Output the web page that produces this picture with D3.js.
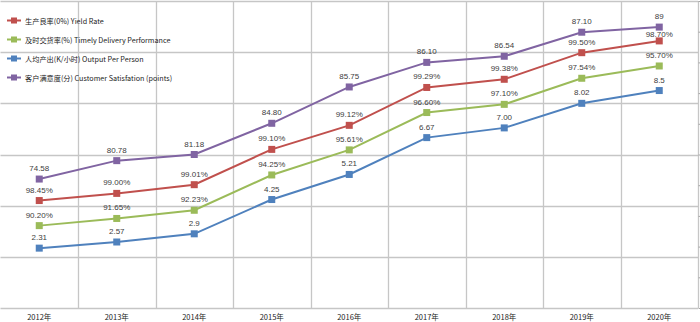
<!DOCTYPE html>
<html><head><meta charset="utf-8">
<script src="https://cdn.jsdelivr.net/npm/d3@7/dist/d3.min.js"></script>
<style>body{margin:0;background:#fff}svg{display:block}</style>
</head><body>
<svg id="c" width="700" height="322"></svg>
<script>
const years = ["2012年","2013年","2014年","2015年","2016年","2017年","2018年","2019年","2020年"];
const seriesNames = ["生产良率(0%) Yield Rate","及时交货率(%) Timely Delivery Performance","人均产出(K/小时) Output Per Person","客户满意度(分) Customer Satisfation (points)"];
const seriesColors = ["#C0504D","#9BBB59","#4F81BD","#8064A2"];
// plotted positions (chart units)
const yieldPlot = [21.0,22.4,24.1,31.0,35.7,43.1,44.7,49.9,52.2];
const deliveryPlot = [16.1,17.5,19.1,26.0,30.9,38.2,39.8,44.9,47.3];
const outputPlot = [11.7,12.9,14.5,21.2,26.1,33.3,35.2,40.0,42.5];
const satisfactionPlot = [25.2,28.8,30.0,36.1,43.2,48.0,49.2,53.9,54.9];
// data labels
const yieldLabels = ["98.45%","99.00%","99.01%","99.10%","99.12%","99.29%","99.38%","99.50%","98.70%"];
const deliveryLabels = ["90.20%","91.65%","92.23%","94.25%","95.61%","96.60%","97.10%","97.54%","95.70%"];
const outputLabels = ["2.31","2.57","2.9","4.25","5.21","6.67","7.00","8.02","8.5"];
const satisfactionLabels = ["74.58","80.78","81.18","84.80","85.75","86.10","86.54","87.10","89"];

const plots = [yieldPlot, deliveryPlot, outputPlot, satisfactionPlot];
const labels = [yieldLabels, deliveryLabels, outputLabels, satisfactionLabels];

const svg = d3.select("#c");
const L = 0.5, R = 698, T = 1, B = 308;
const x = d3.scaleBand().domain(years).range([L, R]);
const y = d3.scaleLinear().domain([0, 60]).range([B, T]);
const y2 = d3.scaleLinear().domain([0, 100]).range([B, T]);

// horizontal gridlines
svg.append("g").selectAll("line").data(y.ticks(6)).join("line")
  .attr("x1", L).attr("x2", R)
  .attr("y1", d => Math.round(y(d)) + 0.5).attr("y2", d => Math.round(y(d)) + 0.5)
  .attr("stroke", "#c6c6c6").attr("stroke-width", 1.3);
// vertical gridlines at band boundaries
svg.append("g").selectAll("line").data(years.slice(1).concat(["end"])).join("line")
  .attr("x1", d => Math.round(d === "end" ? R : x(d)) + 0.5)
  .attr("x2", d => Math.round(d === "end" ? R : x(d)) + 0.5)
  .attr("y1", T).attr("y2", B)
  .attr("stroke", "#c6c6c6").attr("stroke-width", 1.3);

// right axis ticks (labels cut off)
const ra = svg.append("g").attr("transform", `translate(${Math.round(R)+0.5},0)`)
  .call(d3.axisRight(y2).ticks(10).tickSize(3).tickFormat(""));
ra.select(".domain").remove();
ra.selectAll("line").attr("stroke", "#a6a6a6");

// x labels
svg.append("g").selectAll("text").data(years).join("text")
  .attr("x", d => x(d) + x.bandwidth() / 2).attr("y", 320)
  .attr("text-anchor", "middle")
  .attr("font-family", "'Noto Sans CJK SC','Liberation Sans',sans-serif")
  .attr("font-size", 7.5).attr("fill", "#222").text(d => d);

const line = d3.line().x((d, i) => x(years[i]) + x.bandwidth() / 2).y(d => y(d));

plots.forEach((p, s) => {
  const g = svg.append("g");
  g.append("path").datum(p).attr("d", line).attr("fill", "none")
    .attr("stroke", seriesColors[s]).attr("stroke-width", 2);
  g.selectAll("rect").data(p).join("rect")
    .attr("x", (d, i) => x(years[i]) + x.bandwidth() / 2 - 3.5)
    .attr("y", d => y(d) - 3.5).attr("width", 7).attr("height", 7)
    .attr("fill", seriesColors[s]);
  g.selectAll("text").data(p).join("text")
    .attr("x", (d, i) => x(years[i]) + x.bandwidth() / 2)
    .attr("y", (d, i) => y(d) - ((s === 0 && i === 8) ? 4 : 8))
    .attr("text-anchor", "middle")
    .attr("font-family", "'Liberation Sans',Arial,sans-serif")
    .attr("font-size", 8).attr("fill", "#404040")
    .text((d, i) => labels[s][i]);
});

// legend
const lg = svg.append("g");
seriesNames.forEach((n, i) => {
  const yy = 20.5 + i * 19;
  lg.append("line").attr("x1", 7).attr("x2", 21).attr("y1", yy).attr("y2", yy)
    .attr("stroke", seriesColors[i]).attr("stroke-width", 2);
  lg.append("rect").attr("x", 11).attr("y", yy - 3).attr("width", 6).attr("height", 6)
    .attr("fill", seriesColors[i]);
  lg.append("text").attr("x", 25).attr("y", yy + 3)
    .attr("font-family", "'Noto Sans CJK SC','Liberation Sans',sans-serif")
    .attr("font-size", 7.2).attr("fill", "#222").text(n);
});
</script>
</body></html>
